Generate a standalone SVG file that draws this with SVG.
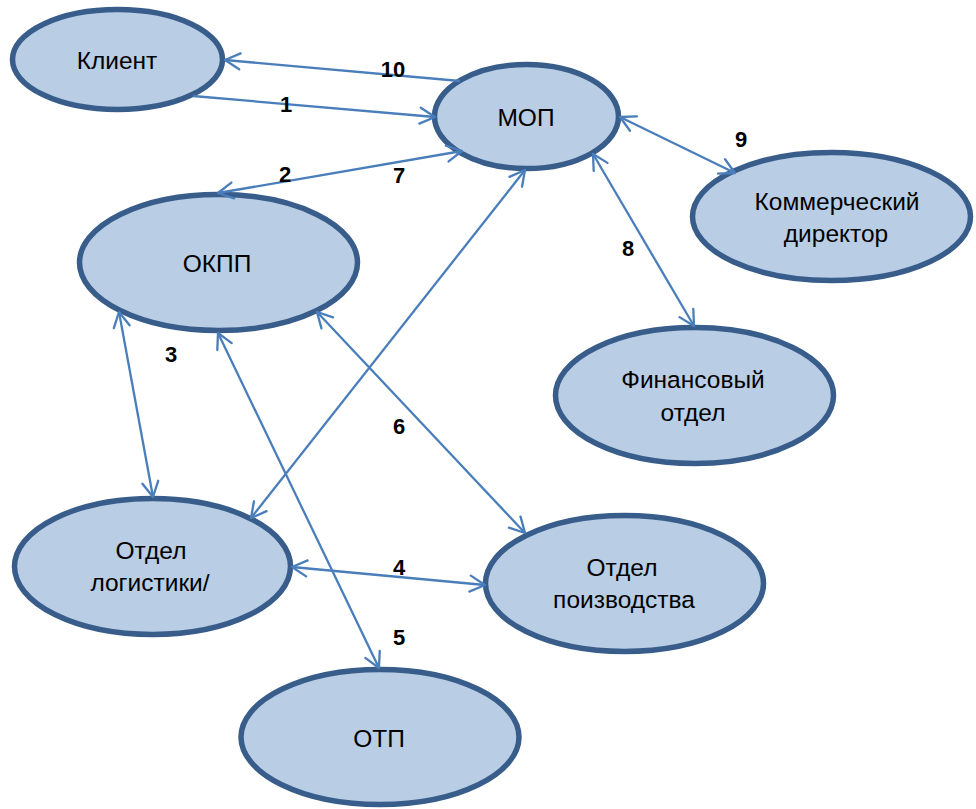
<svg xmlns="http://www.w3.org/2000/svg" width="976" height="809" viewBox="0 0 976 809">
<style>
.node ellipse{fill:#B9CDE5;stroke:#385D8A;stroke-width:5.5}
.node text{font-family:"Liberation Sans",Arial,sans-serif;font-size:24.5px;fill:#000;text-anchor:middle}
.conn path{fill:none;stroke:#4A7EBB;stroke-width:2.3}
.lbl{font-family:"Liberation Sans",Arial,sans-serif;font-size:22px;font-weight:bold;fill:#000;text-anchor:middle}
</style>
<defs>
<marker id="ah" viewBox="-17 -10 19 20" refX="0" refY="0" markerWidth="19" markerHeight="20" markerUnits="userSpaceOnUse" orient="auto-start-reverse">
<path d="M-15,-8 L0,0 L-15,8" fill="none" stroke="#4A7EBB" stroke-width="2.3" stroke-linejoin="round" stroke-linecap="round"/>
</marker>
</defs>
<rect width="976" height="809" fill="#fff"/>
<g id="klient" class="node"><ellipse cx="117.5" cy="59.5" rx="105" ry="50"/><text x="117" y="69">Клиент</text></g>
<g id="mop" class="node"><ellipse cx="526.5" cy="116.5" rx="92" ry="52"/><text x="526" y="126">МОП</text></g>
<g id="okpp" class="node"><ellipse cx="218.5" cy="262.5" rx="139" ry="68"/><text x="217" y="272">ОКПП</text></g>
<g id="kommerch" class="node"><ellipse cx="831.5" cy="216.5" rx="139" ry="64"/><text x="837" y="210">Коммерческий</text><text x="836" y="242">директор</text></g>
<g id="fin" class="node"><ellipse cx="694.5" cy="395.5" rx="139" ry="68"/><text x="693" y="388">Финансовый</text><text x="693" y="421">отдел</text></g>
<g id="proizv" class="node"><ellipse cx="624.5" cy="583.5" rx="139" ry="68"/><text x="622" y="576">Отдел</text><text x="624" y="608">поизводства</text></g>
<g id="logist" class="node"><ellipse cx="152.5" cy="566.5" rx="138" ry="68"/><text x="151" y="559">Отдел</text><text x="150" y="591">логистики/</text></g>
<g id="otp" class="node"><ellipse cx="380" cy="737" rx="139" ry="67.5"/><text x="379" y="747">ОТП</text></g>
<g id="connectors" class="conn">
<path d="M193,96 L435,117" marker-end="url(#ah)"/>
<path d="M460,81 L225,60" marker-end="url(#ah)"/>
<path d="M218,193 L462,151" marker-start="url(#ah)" marker-end="url(#ah)"/>
<path d="M119,312 L153,497" marker-start="url(#ah)" marker-end="url(#ah)"/>
<path d="M218,333 L379,668" marker-start="url(#ah)" marker-end="url(#ah)"/>
<path d="M317,312 L525,533" marker-start="url(#ah)" marker-end="url(#ah)"/>
<path d="M525,170 L251,518" marker-start="url(#ah)" marker-end="url(#ah)"/>
<path d="M593,154 L694,326" marker-start="url(#ah)" marker-end="url(#ah)"/>
<path d="M620,117 L735,173" marker-start="url(#ah)" marker-end="url(#ah)"/>
<path d="M292,567 L485,585" marker-start="url(#ah)" marker-end="url(#ah)"/>
</g>
<g id="labels">
<text class="lbl" x="393" y="77">10</text>
<text class="lbl" x="286" y="112">1</text>
<text class="lbl" x="285" y="182">2</text>
<text class="lbl" x="399" y="183">7</text>
<text class="lbl" x="171" y="362">3</text>
<text class="lbl" x="399" y="434">6</text>
<text class="lbl" x="399" y="575">4</text>
<text class="lbl" x="399" y="645">5</text>
<text class="lbl" x="628" y="256">8</text>
<text class="lbl" x="741" y="147">9</text>
</g>
</svg>
